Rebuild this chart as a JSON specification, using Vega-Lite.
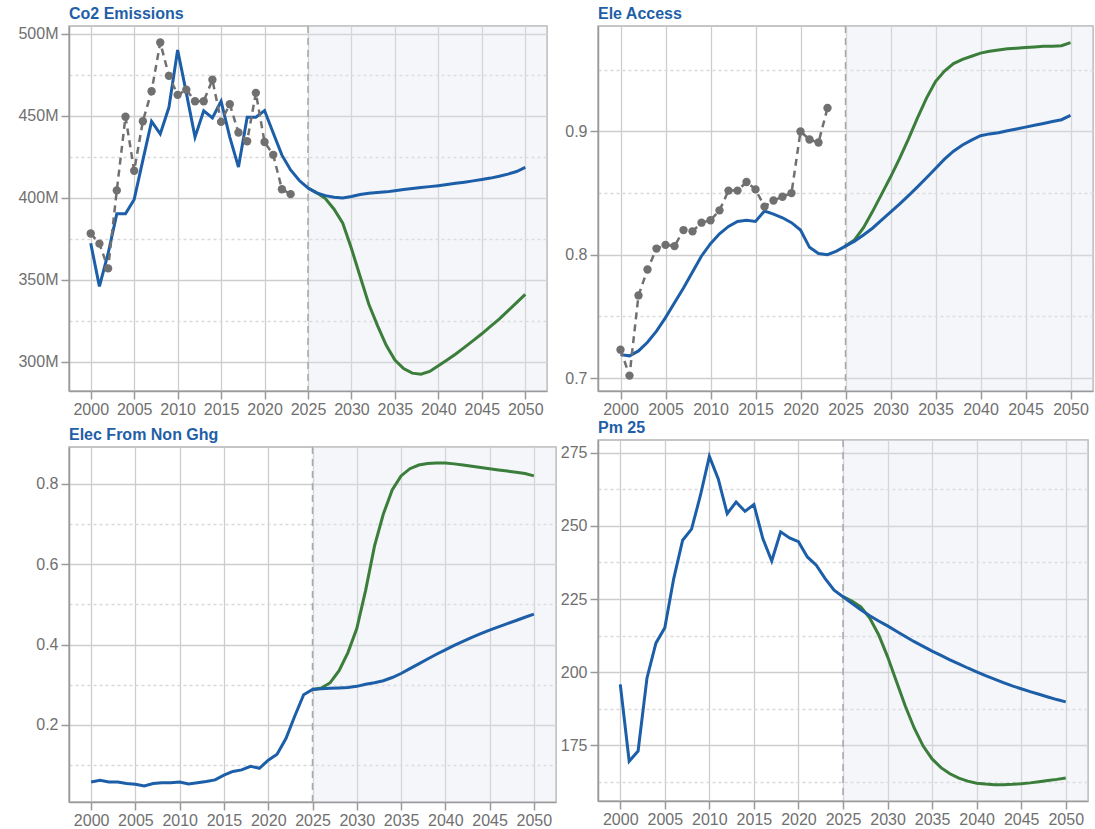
{
  "$schema": "https://vega.github.io/schema/vega-lite/v6.json",
  "padding": {"left": 17, "top": 5, "right": 0, "bottom": 0},
  "background": "white",
  "datasets": {
    "phase": [{"projection_start": 2025}],
    "co2": [
      {"year": 2000, "series": "Observed", "value": 378.2}, {"year": 2001, "series": "Observed", "value": 372}, {"year": 2002, "series": "Observed", "value": 356.9}, {"year": 2003, "series": "Observed", "value": 404.5}, {"year": 2004, "series": "Observed", "value": 449.4}, {"year": 2005, "series": "Observed", "value": 416.5}, {"year": 2006, "series": "Observed", "value": 446.7}, {"year": 2007, "series": "Observed", "value": 465}, {"year": 2008, "series": "Observed", "value": 494.7}, {"year": 2009, "series": "Observed", "value": 474.4}, {"year": 2010, "series": "Observed", "value": 462.8}, {"year": 2011, "series": "Observed", "value": 465.9}, {"year": 2012, "series": "Observed", "value": 458.9}, {"year": 2013, "series": "Observed", "value": 458.9}, {"year": 2014, "series": "Observed", "value": 472}, {"year": 2015, "series": "Observed", "value": 446.3}, {"year": 2016, "series": "Observed", "value": 457.1}, {"year": 2017, "series": "Observed", "value": 439.8}, {"year": 2018, "series": "Observed", "value": 434.5}, {"year": 2019, "series": "Observed", "value": 464}, {"year": 2020, "series": "Observed", "value": 434}, {"year": 2021, "series": "Observed", "value": 426.2}, {"year": 2022, "series": "Observed", "value": 405.2}, {"year": 2023, "series": "Observed", "value": 402.2},
      {"year": 2000, "series": "Baseline", "value": 372.2}, {"year": 2001, "series": "Baseline", "value": 345.9}, {"year": 2002, "series": "Baseline", "value": 366}, {"year": 2003, "series": "Baseline", "value": 390.2}, {"year": 2004, "series": "Baseline", "value": 390.2}, {"year": 2005, "series": "Baseline", "value": 399}, {"year": 2006, "series": "Baseline", "value": 423}, {"year": 2007, "series": "Baseline", "value": 446.6}, {"year": 2008, "series": "Baseline", "value": 439}, {"year": 2009, "series": "Baseline", "value": 455.2}, {"year": 2010, "series": "Baseline", "value": 490.2}, {"year": 2011, "series": "Baseline", "value": 464}, {"year": 2012, "series": "Baseline", "value": 437}, {"year": 2013, "series": "Baseline", "value": 453}, {"year": 2014, "series": "Baseline", "value": 448.7}, {"year": 2015, "series": "Baseline", "value": 458.9}, {"year": 2016, "series": "Baseline", "value": 437}, {"year": 2017, "series": "Baseline", "value": 418.7}, {"year": 2018, "series": "Baseline", "value": 449.2}, {"year": 2019, "series": "Baseline", "value": 449.2}, {"year": 2020, "series": "Baseline", "value": 453.2}, {"year": 2021, "series": "Baseline", "value": 439.5}, {"year": 2022, "series": "Baseline", "value": 426}, {"year": 2023, "series": "Baseline", "value": 417}, {"year": 2024, "series": "Baseline", "value": 410.5}, {"year": 2025, "series": "Baseline", "value": 406}, {"year": 2026, "series": "Baseline", "value": 403}, {"year": 2027, "series": "Baseline", "value": 401.3}, {"year": 2028, "series": "Baseline", "value": 400.3}, {"year": 2029, "series": "Baseline", "value": 399.9}, {"year": 2030, "series": "Baseline", "value": 400.8}, {"year": 2031, "series": "Baseline", "value": 402}, {"year": 2032, "series": "Baseline", "value": 402.8}, {"year": 2033, "series": "Baseline", "value": 403.2}, {"year": 2034, "series": "Baseline", "value": 403.6}, {"year": 2035, "series": "Baseline", "value": 404.3}, {"year": 2036, "series": "Baseline", "value": 405}, {"year": 2037, "series": "Baseline", "value": 405.6}, {"year": 2038, "series": "Baseline", "value": 406.2}, {"year": 2039, "series": "Baseline", "value": 406.8}, {"year": 2040, "series": "Baseline", "value": 407.4}, {"year": 2041, "series": "Baseline", "value": 408.1}, {"year": 2042, "series": "Baseline", "value": 408.8}, {"year": 2043, "series": "Baseline", "value": 409.5}, {"year": 2044, "series": "Baseline", "value": 410.3}, {"year": 2045, "series": "Baseline", "value": 411.1}, {"year": 2046, "series": "Baseline", "value": 412}, {"year": 2047, "series": "Baseline", "value": 413.1}, {"year": 2048, "series": "Baseline", "value": 414.4}, {"year": 2049, "series": "Baseline", "value": 416}, {"year": 2050, "series": "Baseline", "value": 418.5},
      {"year": 2025, "series": "Scenario", "value": 406}, {"year": 2026, "series": "Scenario", "value": 403}, {"year": 2027, "series": "Scenario", "value": 399.5}, {"year": 2028, "series": "Scenario", "value": 393}, {"year": 2029, "series": "Scenario", "value": 384.5}, {"year": 2030, "series": "Scenario", "value": 369}, {"year": 2031, "series": "Scenario", "value": 352}, {"year": 2032, "series": "Scenario", "value": 335}, {"year": 2033, "series": "Scenario", "value": 322}, {"year": 2034, "series": "Scenario", "value": 310}, {"year": 2035, "series": "Scenario", "value": 301}, {"year": 2036, "series": "Scenario", "value": 295.8}, {"year": 2037, "series": "Scenario", "value": 293}, {"year": 2038, "series": "Scenario", "value": 292.3}, {"year": 2039, "series": "Scenario", "value": 294}, {"year": 2040, "series": "Scenario", "value": 297.5}, {"year": 2041, "series": "Scenario", "value": 301}, {"year": 2042, "series": "Scenario", "value": 304.7}, {"year": 2043, "series": "Scenario", "value": 308.7}, {"year": 2044, "series": "Scenario", "value": 312.8}, {"year": 2045, "series": "Scenario", "value": 317}, {"year": 2046, "series": "Scenario", "value": 321.5}, {"year": 2047, "series": "Scenario", "value": 326}, {"year": 2048, "series": "Scenario", "value": 331}, {"year": 2049, "series": "Scenario", "value": 336}, {"year": 2050, "series": "Scenario", "value": 341}
    ],
    "access": [
      {"year": 2000, "series": "Observed", "value": 0.723}, {"year": 2001, "series": "Observed", "value": 0.702}, {"year": 2002, "series": "Observed", "value": 0.767}, {"year": 2003, "series": "Observed", "value": 0.788}, {"year": 2004, "series": "Observed", "value": 0.805}, {"year": 2005, "series": "Observed", "value": 0.808}, {"year": 2006, "series": "Observed", "value": 0.807}, {"year": 2007, "series": "Observed", "value": 0.82}, {"year": 2008, "series": "Observed", "value": 0.819}, {"year": 2009, "series": "Observed", "value": 0.826}, {"year": 2010, "series": "Observed", "value": 0.828}, {"year": 2011, "series": "Observed", "value": 0.836}, {"year": 2012, "series": "Observed", "value": 0.852}, {"year": 2013, "series": "Observed", "value": 0.852}, {"year": 2014, "series": "Observed", "value": 0.859}, {"year": 2015, "series": "Observed", "value": 0.853}, {"year": 2016, "series": "Observed", "value": 0.839}, {"year": 2017, "series": "Observed", "value": 0.844}, {"year": 2018, "series": "Observed", "value": 0.847}, {"year": 2019, "series": "Observed", "value": 0.85}, {"year": 2020, "series": "Observed", "value": 0.9}, {"year": 2021, "series": "Observed", "value": 0.8935}, {"year": 2022, "series": "Observed", "value": 0.891}, {"year": 2023, "series": "Observed", "value": 0.919},
      {"year": 2000, "series": "Baseline", "value": 0.719}, {"year": 2001, "series": "Baseline", "value": 0.718}, {"year": 2002, "series": "Baseline", "value": 0.722}, {"year": 2003, "series": "Baseline", "value": 0.729}, {"year": 2004, "series": "Baseline", "value": 0.738}, {"year": 2005, "series": "Baseline", "value": 0.749}, {"year": 2006, "series": "Baseline", "value": 0.761}, {"year": 2007, "series": "Baseline", "value": 0.773}, {"year": 2008, "series": "Baseline", "value": 0.786}, {"year": 2009, "series": "Baseline", "value": 0.799}, {"year": 2010, "series": "Baseline", "value": 0.809}, {"year": 2011, "series": "Baseline", "value": 0.817}, {"year": 2012, "series": "Baseline", "value": 0.823}, {"year": 2013, "series": "Baseline", "value": 0.827}, {"year": 2014, "series": "Baseline", "value": 0.828}, {"year": 2015, "series": "Baseline", "value": 0.827}, {"year": 2016, "series": "Baseline", "value": 0.8355}, {"year": 2017, "series": "Baseline", "value": 0.833}, {"year": 2018, "series": "Baseline", "value": 0.83}, {"year": 2019, "series": "Baseline", "value": 0.826}, {"year": 2020, "series": "Baseline", "value": 0.82}, {"year": 2021, "series": "Baseline", "value": 0.806}, {"year": 2022, "series": "Baseline", "value": 0.801}, {"year": 2023, "series": "Baseline", "value": 0.8}, {"year": 2024, "series": "Baseline", "value": 0.803}, {"year": 2025, "series": "Baseline", "value": 0.807}, {"year": 2026, "series": "Baseline", "value": 0.811}, {"year": 2027, "series": "Baseline", "value": 0.816}, {"year": 2028, "series": "Baseline", "value": 0.8215}, {"year": 2029, "series": "Baseline", "value": 0.828}, {"year": 2030, "series": "Baseline", "value": 0.8345}, {"year": 2031, "series": "Baseline", "value": 0.841}, {"year": 2032, "series": "Baseline", "value": 0.848}, {"year": 2033, "series": "Baseline", "value": 0.855}, {"year": 2034, "series": "Baseline", "value": 0.8625}, {"year": 2035, "series": "Baseline", "value": 0.87}, {"year": 2036, "series": "Baseline", "value": 0.8775}, {"year": 2037, "series": "Baseline", "value": 0.884}, {"year": 2038, "series": "Baseline", "value": 0.889}, {"year": 2039, "series": "Baseline", "value": 0.893}, {"year": 2040, "series": "Baseline", "value": 0.8965}, {"year": 2041, "series": "Baseline", "value": 0.898}, {"year": 2042, "series": "Baseline", "value": 0.899}, {"year": 2043, "series": "Baseline", "value": 0.9005}, {"year": 2044, "series": "Baseline", "value": 0.902}, {"year": 2045, "series": "Baseline", "value": 0.9035}, {"year": 2046, "series": "Baseline", "value": 0.905}, {"year": 2047, "series": "Baseline", "value": 0.9065}, {"year": 2048, "series": "Baseline", "value": 0.908}, {"year": 2049, "series": "Baseline", "value": 0.9095}, {"year": 2050, "series": "Baseline", "value": 0.913},
      {"year": 2025, "series": "Scenario", "value": 0.807}, {"year": 2026, "series": "Scenario", "value": 0.812}, {"year": 2027, "series": "Scenario", "value": 0.822}, {"year": 2028, "series": "Scenario", "value": 0.835}, {"year": 2029, "series": "Scenario", "value": 0.849}, {"year": 2030, "series": "Scenario", "value": 0.863}, {"year": 2031, "series": "Scenario", "value": 0.878}, {"year": 2032, "series": "Scenario", "value": 0.894}, {"year": 2033, "series": "Scenario", "value": 0.911}, {"year": 2034, "series": "Scenario", "value": 0.927}, {"year": 2035, "series": "Scenario", "value": 0.9405}, {"year": 2036, "series": "Scenario", "value": 0.949}, {"year": 2037, "series": "Scenario", "value": 0.955}, {"year": 2038, "series": "Scenario", "value": 0.9585}, {"year": 2039, "series": "Scenario", "value": 0.961}, {"year": 2040, "series": "Scenario", "value": 0.9635}, {"year": 2041, "series": "Scenario", "value": 0.965}, {"year": 2042, "series": "Scenario", "value": 0.966}, {"year": 2043, "series": "Scenario", "value": 0.967}, {"year": 2044, "series": "Scenario", "value": 0.9675}, {"year": 2045, "series": "Scenario", "value": 0.968}, {"year": 2046, "series": "Scenario", "value": 0.9685}, {"year": 2047, "series": "Scenario", "value": 0.969}, {"year": 2048, "series": "Scenario", "value": 0.969}, {"year": 2049, "series": "Scenario", "value": 0.9695}, {"year": 2050, "series": "Scenario", "value": 0.972}
    ],
    "nonghg": [
      {"year": 2000, "series": "Baseline", "value": 0.058}, {"year": 2001, "series": "Baseline", "value": 0.062}, {"year": 2002, "series": "Baseline", "value": 0.058}, {"year": 2003, "series": "Baseline", "value": 0.058}, {"year": 2004, "series": "Baseline", "value": 0.054}, {"year": 2005, "series": "Baseline", "value": 0.052}, {"year": 2006, "series": "Baseline", "value": 0.048}, {"year": 2007, "series": "Baseline", "value": 0.054}, {"year": 2008, "series": "Baseline", "value": 0.056}, {"year": 2009, "series": "Baseline", "value": 0.056}, {"year": 2010, "series": "Baseline", "value": 0.058}, {"year": 2011, "series": "Baseline", "value": 0.053}, {"year": 2012, "series": "Baseline", "value": 0.056}, {"year": 2013, "series": "Baseline", "value": 0.059}, {"year": 2014, "series": "Baseline", "value": 0.063}, {"year": 2015, "series": "Baseline", "value": 0.075}, {"year": 2016, "series": "Baseline", "value": 0.084}, {"year": 2017, "series": "Baseline", "value": 0.088}, {"year": 2018, "series": "Baseline", "value": 0.097}, {"year": 2019, "series": "Baseline", "value": 0.092}, {"year": 2020, "series": "Baseline", "value": 0.112}, {"year": 2021, "series": "Baseline", "value": 0.127}, {"year": 2022, "series": "Baseline", "value": 0.166}, {"year": 2023, "series": "Baseline", "value": 0.222}, {"year": 2024, "series": "Baseline", "value": 0.275}, {"year": 2025, "series": "Baseline", "value": 0.288}, {"year": 2026, "series": "Baseline", "value": 0.29}, {"year": 2027, "series": "Baseline", "value": 0.291}, {"year": 2028, "series": "Baseline", "value": 0.292}, {"year": 2029, "series": "Baseline", "value": 0.293}, {"year": 2030, "series": "Baseline", "value": 0.296}, {"year": 2031, "series": "Baseline", "value": 0.301}, {"year": 2032, "series": "Baseline", "value": 0.305}, {"year": 2033, "series": "Baseline", "value": 0.31}, {"year": 2034, "series": "Baseline", "value": 0.318}, {"year": 2035, "series": "Baseline", "value": 0.328}, {"year": 2036, "series": "Baseline", "value": 0.34}, {"year": 2037, "series": "Baseline", "value": 0.352}, {"year": 2038, "series": "Baseline", "value": 0.364}, {"year": 2039, "series": "Baseline", "value": 0.376}, {"year": 2040, "series": "Baseline", "value": 0.387}, {"year": 2041, "series": "Baseline", "value": 0.398}, {"year": 2042, "series": "Baseline", "value": 0.408}, {"year": 2043, "series": "Baseline", "value": 0.418}, {"year": 2044, "series": "Baseline", "value": 0.427}, {"year": 2045, "series": "Baseline", "value": 0.436}, {"year": 2046, "series": "Baseline", "value": 0.444}, {"year": 2047, "series": "Baseline", "value": 0.452}, {"year": 2048, "series": "Baseline", "value": 0.46}, {"year": 2049, "series": "Baseline", "value": 0.468}, {"year": 2050, "series": "Baseline", "value": 0.476},
      {"year": 2025, "series": "Scenario", "value": 0.288}, {"year": 2026, "series": "Scenario", "value": 0.292}, {"year": 2027, "series": "Scenario", "value": 0.305}, {"year": 2028, "series": "Scenario", "value": 0.335}, {"year": 2029, "series": "Scenario", "value": 0.38}, {"year": 2030, "series": "Scenario", "value": 0.44}, {"year": 2031, "series": "Scenario", "value": 0.535}, {"year": 2032, "series": "Scenario", "value": 0.645}, {"year": 2033, "series": "Scenario", "value": 0.725}, {"year": 2034, "series": "Scenario", "value": 0.785}, {"year": 2035, "series": "Scenario", "value": 0.82}, {"year": 2036, "series": "Scenario", "value": 0.838}, {"year": 2037, "series": "Scenario", "value": 0.847}, {"year": 2038, "series": "Scenario", "value": 0.851}, {"year": 2039, "series": "Scenario", "value": 0.852}, {"year": 2040, "series": "Scenario", "value": 0.852}, {"year": 2041, "series": "Scenario", "value": 0.85}, {"year": 2042, "series": "Scenario", "value": 0.847}, {"year": 2043, "series": "Scenario", "value": 0.844}, {"year": 2044, "series": "Scenario", "value": 0.841}, {"year": 2045, "series": "Scenario", "value": 0.838}, {"year": 2046, "series": "Scenario", "value": 0.835}, {"year": 2047, "series": "Scenario", "value": 0.832}, {"year": 2048, "series": "Scenario", "value": 0.829}, {"year": 2049, "series": "Scenario", "value": 0.826}, {"year": 2050, "series": "Scenario", "value": 0.82}
    ],
    "pm25": [
      {"year": 2000, "series": "Baseline", "value": 195.8}, {"year": 2001, "series": "Baseline", "value": 169.5}, {"year": 2002, "series": "Baseline", "value": 173}, {"year": 2003, "series": "Baseline", "value": 198}, {"year": 2004, "series": "Baseline", "value": 209.9}, {"year": 2005, "series": "Baseline", "value": 215.2}, {"year": 2006, "series": "Baseline", "value": 232}, {"year": 2007, "series": "Baseline", "value": 245.1}, {"year": 2008, "series": "Baseline", "value": 248.9}, {"year": 2009, "series": "Baseline", "value": 260.5}, {"year": 2010, "series": "Baseline", "value": 273.8}, {"year": 2011, "series": "Baseline", "value": 266.1}, {"year": 2012, "series": "Baseline", "value": 254.2}, {"year": 2013, "series": "Baseline", "value": 258.2}, {"year": 2014, "series": "Baseline", "value": 255}, {"year": 2015, "series": "Baseline", "value": 257.3}, {"year": 2016, "series": "Baseline", "value": 245.7}, {"year": 2017, "series": "Baseline", "value": 238}, {"year": 2018, "series": "Baseline", "value": 248}, {"year": 2019, "series": "Baseline", "value": 245.9}, {"year": 2020, "series": "Baseline", "value": 244.6}, {"year": 2021, "series": "Baseline", "value": 239.4}, {"year": 2022, "series": "Baseline", "value": 236.6}, {"year": 2023, "series": "Baseline", "value": 232}, {"year": 2024, "series": "Baseline", "value": 228}, {"year": 2025, "series": "Baseline", "value": 225.8}, {"year": 2026, "series": "Baseline", "value": 223.5}, {"year": 2027, "series": "Baseline", "value": 221.3}, {"year": 2028, "series": "Baseline", "value": 219.3}, {"year": 2029, "series": "Baseline", "value": 217.5}, {"year": 2030, "series": "Baseline", "value": 215.8}, {"year": 2031, "series": "Baseline", "value": 214}, {"year": 2032, "series": "Baseline", "value": 212.2}, {"year": 2033, "series": "Baseline", "value": 210.4}, {"year": 2034, "series": "Baseline", "value": 208.8}, {"year": 2035, "series": "Baseline", "value": 207.2}, {"year": 2036, "series": "Baseline", "value": 205.7}, {"year": 2037, "series": "Baseline", "value": 204.2}, {"year": 2038, "series": "Baseline", "value": 202.8}, {"year": 2039, "series": "Baseline", "value": 201.4}, {"year": 2040, "series": "Baseline", "value": 200.1}, {"year": 2041, "series": "Baseline", "value": 198.8}, {"year": 2042, "series": "Baseline", "value": 197.6}, {"year": 2043, "series": "Baseline", "value": 196.4}, {"year": 2044, "series": "Baseline", "value": 195.3}, {"year": 2045, "series": "Baseline", "value": 194.3}, {"year": 2046, "series": "Baseline", "value": 193.3}, {"year": 2047, "series": "Baseline", "value": 192.4}, {"year": 2048, "series": "Baseline", "value": 191.5}, {"year": 2049, "series": "Baseline", "value": 190.6}, {"year": 2050, "series": "Baseline", "value": 189.8},
      {"year": 2025, "series": "Scenario", "value": 225.8}, {"year": 2026, "series": "Scenario", "value": 224.3}, {"year": 2027, "series": "Scenario", "value": 222.3}, {"year": 2028, "series": "Scenario", "value": 218.5}, {"year": 2029, "series": "Scenario", "value": 212.8}, {"year": 2030, "series": "Scenario", "value": 205.3}, {"year": 2031, "series": "Scenario", "value": 196.8}, {"year": 2032, "series": "Scenario", "value": 188.3}, {"year": 2033, "series": "Scenario", "value": 180.8}, {"year": 2034, "series": "Scenario", "value": 174.7}, {"year": 2035, "series": "Scenario", "value": 170.3}, {"year": 2036, "series": "Scenario", "value": 167.3}, {"year": 2037, "series": "Scenario", "value": 165.2}, {"year": 2038, "series": "Scenario", "value": 163.7}, {"year": 2039, "series": "Scenario", "value": 162.7}, {"year": 2040, "series": "Scenario", "value": 162}, {"year": 2041, "series": "Scenario", "value": 161.7}, {"year": 2042, "series": "Scenario", "value": 161.5}, {"year": 2043, "series": "Scenario", "value": 161.5}, {"year": 2044, "series": "Scenario", "value": 161.6}, {"year": 2045, "series": "Scenario", "value": 161.8}, {"year": 2046, "series": "Scenario", "value": 162.1}, {"year": 2047, "series": "Scenario", "value": 162.5}, {"year": 2048, "series": "Scenario", "value": 162.9}, {"year": 2049, "series": "Scenario", "value": 163.3}, {"year": 2050, "series": "Scenario", "value": 163.8}
    ]
  },
  "hconcat": [
    {
      "spacing": 8,
      "vconcat": [
        {
          "title": "Co2 Emissions",
          "width": 478, "height": 365,
          "layer": [
            {"data": {"name": "phase"}, "mark": {"type": "rect", "fill": "#dfe5ee", "opacity": 0.35},
             "encoding": {"x": {"field": "projection_start", "type": "quantitative", "title": null,
               "scale": {"domain": [1997.5, 2052.5], "nice": false, "zero": false},
               "axis": {"values": [2000, 2002.5, 2005, 2007.5, 2010, 2012.5, 2015, 2017.5, 2020, 2022.5, 2025, 2027.5, 2030, 2032.5, 2035, 2037.5, 2040, 2042.5, 2045, 2047.5, 2050], "format": "d",
                 "labelExpr": "datum.value % 5 === 0 ? datum.label : ''",
                 "gridDash": {"condition": {"test": "datum.value % 5 !== 0", "value": [3, 3]}, "value": []},
                 "gridColor": {"condition": {"test": "datum.value % 5 !== 0", "value": "#d9d9d9"}, "value": "#cdcdcd"},
                 "tickOpacity": {"condition": {"test": "datum.value % 5 !== 0", "value": 0}, "value": 1}}},
               "x2": {"value": "width"}}},
            {"data": {"name": "phase"}, "mark": {"type": "rule", "color": "#a8a8a8", "strokeWidth": 1.5, "strokeDash": [7, 5]},
             "encoding": {"x": {"field": "projection_start", "type": "quantitative", "title": null}}},
            {"data": {"name": "co2"}, "transform": [{"filter": "datum.series === 'Scenario'"}],
             "mark": {"type": "line", "color": "#3b7d3a", "strokeWidth": 3},
             "encoding": {"x": {"field": "year", "type": "quantitative", "title": null},
               "y": {"field": "value", "type": "quantitative", "title": null,
                 "scale": {"domain": [282.1, 504.8], "nice": false, "zero": false},
                 "axis": {"values": [300, 325, 350, 375, 400, 425, 450, 475, 500], "minExtent": 51, "maxExtent": 51,
                   "labelExpr": "datum.value % 50 === 0 ? datum.value + 'M' : ''",
                   "gridDash": {"condition": {"test": "datum.value % 50 !== 0", "value": [3, 3]}, "value": []},
                   "gridColor": {"condition": {"test": "datum.value % 50 !== 0", "value": "#d9d9d9"}, "value": "#cdcdcd"},
                   "tickOpacity": {"condition": {"test": "datum.value % 50 !== 0", "value": 0}, "value": 1}}}}},
            {"data": {"name": "co2"}, "transform": [{"filter": "datum.series === 'Baseline'"}],
             "mark": {"type": "line", "color": "#1c5ea8", "strokeWidth": 3},
             "encoding": {"x": {"field": "year", "type": "quantitative", "title": null},
               "y": {"field": "value", "type": "quantitative", "title": null}}},
            {"data": {"name": "co2"}, "transform": [{"filter": "datum.series === 'Observed'"}],
             "mark": {"type": "line", "color": "#707070", "strokeWidth": 2.5, "strokeDash": [7, 5]},
             "encoding": {"x": {"field": "year", "type": "quantitative", "title": null},
               "y": {"field": "value", "type": "quantitative", "title": null}}},
            {"data": {"name": "co2"}, "transform": [{"filter": "datum.series === 'Observed'"}],
             "mark": {"type": "point", "filled": true, "color": "#707070", "opacity": 1, "size": 70},
             "encoding": {"x": {"field": "year", "type": "quantitative", "title": null},
               "y": {"field": "value", "type": "quantitative", "title": null}}}
          ]
        },
        {
          "title": "Elec From Non Ghg",
          "width": 487, "height": 355,
          "layer": [
            {"data": {"name": "phase"}, "mark": {"type": "rect", "fill": "#dfe5ee", "opacity": 0.35},
             "encoding": {"x": {"field": "projection_start", "type": "quantitative", "title": null,
               "scale": {"domain": [1997.5, 2052.5], "nice": false, "zero": false},
               "axis": {"values": [2000, 2002.5, 2005, 2007.5, 2010, 2012.5, 2015, 2017.5, 2020, 2022.5, 2025, 2027.5, 2030, 2032.5, 2035, 2037.5, 2040, 2042.5, 2045, 2047.5, 2050], "format": "d",
                 "labelExpr": "datum.value % 5 === 0 ? datum.label : ''",
                 "gridDash": {"condition": {"test": "datum.value % 5 !== 0", "value": [3, 3]}, "value": []},
                 "gridColor": {"condition": {"test": "datum.value % 5 !== 0", "value": "#d9d9d9"}, "value": "#cdcdcd"},
                 "tickOpacity": {"condition": {"test": "datum.value % 5 !== 0", "value": 0}, "value": 1}}},
               "x2": {"value": "width"}}},
            {"data": {"name": "phase"}, "mark": {"type": "rule", "color": "#a8a8a8", "strokeWidth": 1.5, "strokeDash": [7, 5]},
             "encoding": {"x": {"field": "projection_start", "type": "quantitative", "title": null}}},
            {"data": {"name": "nonghg"}, "transform": [{"filter": "datum.series === 'Scenario'"}],
             "mark": {"type": "line", "color": "#3b7d3a", "strokeWidth": 3},
             "encoding": {"x": {"field": "year", "type": "quantitative", "title": null},
               "y": {"field": "value", "type": "quantitative", "title": null,
                 "scale": {"domain": [0.008, 0.892], "nice": false, "zero": false},
                 "axis": {"values": [0.1, 0.2, 0.3, 0.4, 0.5, 0.6, 0.7, 0.8], "format": ".1f", "minExtent": 44, "maxExtent": 44,
                   "labelExpr": "round(datum.value * 10) % 2 === 0 ? datum.label : ''",
                   "gridDash": {"condition": {"test": "round(datum.value * 10) % 2 === 1", "value": [3, 3]}, "value": []},
                   "gridColor": {"condition": {"test": "round(datum.value * 10) % 2 === 1", "value": "#d9d9d9"}, "value": "#cdcdcd"},
                   "tickOpacity": {"condition": {"test": "round(datum.value * 10) % 2 === 1", "value": 0}, "value": 1}}}}},
            {"data": {"name": "nonghg"}, "transform": [{"filter": "datum.series === 'Baseline'"}],
             "mark": {"type": "line", "color": "#1c5ea8", "strokeWidth": 3},
             "encoding": {"x": {"field": "year", "type": "quantitative", "title": null},
               "y": {"field": "value", "type": "quantitative", "title": null}}}
          ]
        }
      ]
    },
    {
      "spacing": 1,
      "vconcat": [
        {
          "title": "Ele Access",
          "width": 495, "height": 365,
          "layer": [
            {"data": {"name": "phase"}, "mark": {"type": "rect", "fill": "#dfe5ee", "opacity": 0.35},
             "encoding": {"x": {"field": "projection_start", "type": "quantitative", "title": null,
               "scale": {"domain": [1997.5, 2052.5], "nice": false, "zero": false},
               "axis": {"values": [2000, 2002.5, 2005, 2007.5, 2010, 2012.5, 2015, 2017.5, 2020, 2022.5, 2025, 2027.5, 2030, 2032.5, 2035, 2037.5, 2040, 2042.5, 2045, 2047.5, 2050], "format": "d",
                 "labelExpr": "datum.value % 5 === 0 ? datum.label : ''",
                 "gridDash": {"condition": {"test": "datum.value % 5 !== 0", "value": [3, 3]}, "value": []},
                 "gridColor": {"condition": {"test": "datum.value % 5 !== 0", "value": "#d9d9d9"}, "value": "#cdcdcd"},
                 "tickOpacity": {"condition": {"test": "datum.value % 5 !== 0", "value": 0}, "value": 1}}},
               "x2": {"value": "width"}}},
            {"data": {"name": "phase"}, "mark": {"type": "rule", "color": "#a8a8a8", "strokeWidth": 1.5, "strokeDash": [7, 5]},
             "encoding": {"x": {"field": "projection_start", "type": "quantitative", "title": null}}},
            {"data": {"name": "access"}, "transform": [{"filter": "datum.series === 'Scenario'"}],
             "mark": {"type": "line", "color": "#3b7d3a", "strokeWidth": 3},
             "encoding": {"x": {"field": "year", "type": "quantitative", "title": null},
               "y": {"field": "value", "type": "quantitative", "title": null,
                 "scale": {"domain": [0.6895, 0.9855], "nice": false, "zero": false},
                 "axis": {"values": [0.7, 0.75, 0.8, 0.85, 0.9, 0.95], "format": ".1f", "minExtent": 33, "maxExtent": 33,
                   "labelExpr": "round(datum.value * 100) % 10 === 0 ? datum.label : ''",
                   "gridDash": {"condition": {"test": "round(datum.value * 100) % 10 !== 0", "value": [3, 3]}, "value": []},
                   "gridColor": {"condition": {"test": "round(datum.value * 100) % 10 !== 0", "value": "#d9d9d9"}, "value": "#cdcdcd"},
                   "tickOpacity": {"condition": {"test": "round(datum.value * 100) % 10 !== 0", "value": 0}, "value": 1}}}}},
            {"data": {"name": "access"}, "transform": [{"filter": "datum.series === 'Baseline'"}],
             "mark": {"type": "line", "color": "#1c5ea8", "strokeWidth": 3},
             "encoding": {"x": {"field": "year", "type": "quantitative", "title": null},
               "y": {"field": "value", "type": "quantitative", "title": null}}},
            {"data": {"name": "access"}, "transform": [{"filter": "datum.series === 'Observed'"}],
             "mark": {"type": "line", "color": "#707070", "strokeWidth": 2.5, "strokeDash": [7, 5]},
             "encoding": {"x": {"field": "year", "type": "quantitative", "title": null},
               "y": {"field": "value", "type": "quantitative", "title": null}}},
            {"data": {"name": "access"}, "transform": [{"filter": "datum.series === 'Observed'"}],
             "mark": {"type": "point", "filled": true, "color": "#707070", "opacity": 1, "size": 70},
             "encoding": {"x": {"field": "year", "type": "quantitative", "title": null},
               "y": {"field": "value", "type": "quantitative", "title": null}}}
          ]
        },
        {
          "title": "Pm 25",
          "width": 490, "height": 361,
          "layer": [
            {"data": {"name": "phase"}, "mark": {"type": "rect", "fill": "#dfe5ee", "opacity": 0.35},
             "encoding": {"x": {"field": "projection_start", "type": "quantitative", "title": null,
               "scale": {"domain": [1997.5, 2052.5], "nice": false, "zero": false},
               "axis": {"values": [2000, 2002.5, 2005, 2007.5, 2010, 2012.5, 2015, 2017.5, 2020, 2022.5, 2025, 2027.5, 2030, 2032.5, 2035, 2037.5, 2040, 2042.5, 2045, 2047.5, 2050], "format": "d",
                 "labelExpr": "datum.value % 5 === 0 ? datum.label : ''",
                 "gridDash": {"condition": {"test": "datum.value % 5 !== 0", "value": [3, 3]}, "value": []},
                 "gridColor": {"condition": {"test": "datum.value % 5 !== 0", "value": "#d9d9d9"}, "value": "#cdcdcd"},
                 "tickOpacity": {"condition": {"test": "datum.value % 5 !== 0", "value": 0}, "value": 1}}},
               "x2": {"value": "width"}}},
            {"data": {"name": "phase"}, "mark": {"type": "rule", "color": "#a8a8a8", "strokeWidth": 1.5, "strokeDash": [7, 5]},
             "encoding": {"x": {"field": "projection_start", "type": "quantitative", "title": null}}},
            {"data": {"name": "pm25"}, "transform": [{"filter": "datum.series === 'Scenario'"}],
             "mark": {"type": "line", "color": "#3b7d3a", "strokeWidth": 3},
             "encoding": {"x": {"field": "year", "type": "quantitative", "title": null},
               "y": {"field": "value", "type": "quantitative", "title": null,
                 "scale": {"domain": [155.9, 279.4], "nice": false, "zero": false},
                 "axis": {"values": [162.5, 175, 187.5, 200, 212.5, 225, 237.5, 250, 262.5, 275], "format": "d", "minExtent": 40, "maxExtent": 40,
                   "labelExpr": "datum.value % 25 === 0 ? datum.label : ''",
                   "gridDash": {"condition": {"test": "datum.value % 25 !== 0", "value": [3, 3]}, "value": []},
                   "gridColor": {"condition": {"test": "datum.value % 25 !== 0", "value": "#d9d9d9"}, "value": "#cdcdcd"},
                   "tickOpacity": {"condition": {"test": "datum.value % 25 !== 0", "value": 0}, "value": 1}}}}},
            {"data": {"name": "pm25"}, "transform": [{"filter": "datum.series === 'Baseline'"}],
             "mark": {"type": "line", "color": "#1c5ea8", "strokeWidth": 3},
             "encoding": {"x": {"field": "year", "type": "quantitative", "title": null},
               "y": {"field": "value", "type": "quantitative", "title": null}}}
          ]
        }
      ]
    }
  ],
  "spacing": 0,
  "config": {
    "font": "Liberation Sans",
    "view": {"stroke": "#b3b3b3", "strokeWidth": 1.5},
    "axis": {
      "labelFont": "Liberation Sans", "labelFontSize": 16, "labelColor": "#707070",
      "domainColor": "#9a9a9a", "domainWidth": 1.5,
      "tickColor": "#9a9a9a", "tickWidth": 1.5, "tickSize": 8,
      "gridWidth": 1.3,
      "labelOverlap": false, "labelFlush": false, "labelBound": false
    },
    "axisX": {"labelPadding": 2},
    "axisY": {"labelPadding": 3},
    "title": {"font": "Liberation Sans", "fontSize": 16, "fontWeight": "bold", "color": "#1f5fa8", "anchor": "start", "frame": "group", "offset": 3, "baseline": "alphabetic"}
  }
}
